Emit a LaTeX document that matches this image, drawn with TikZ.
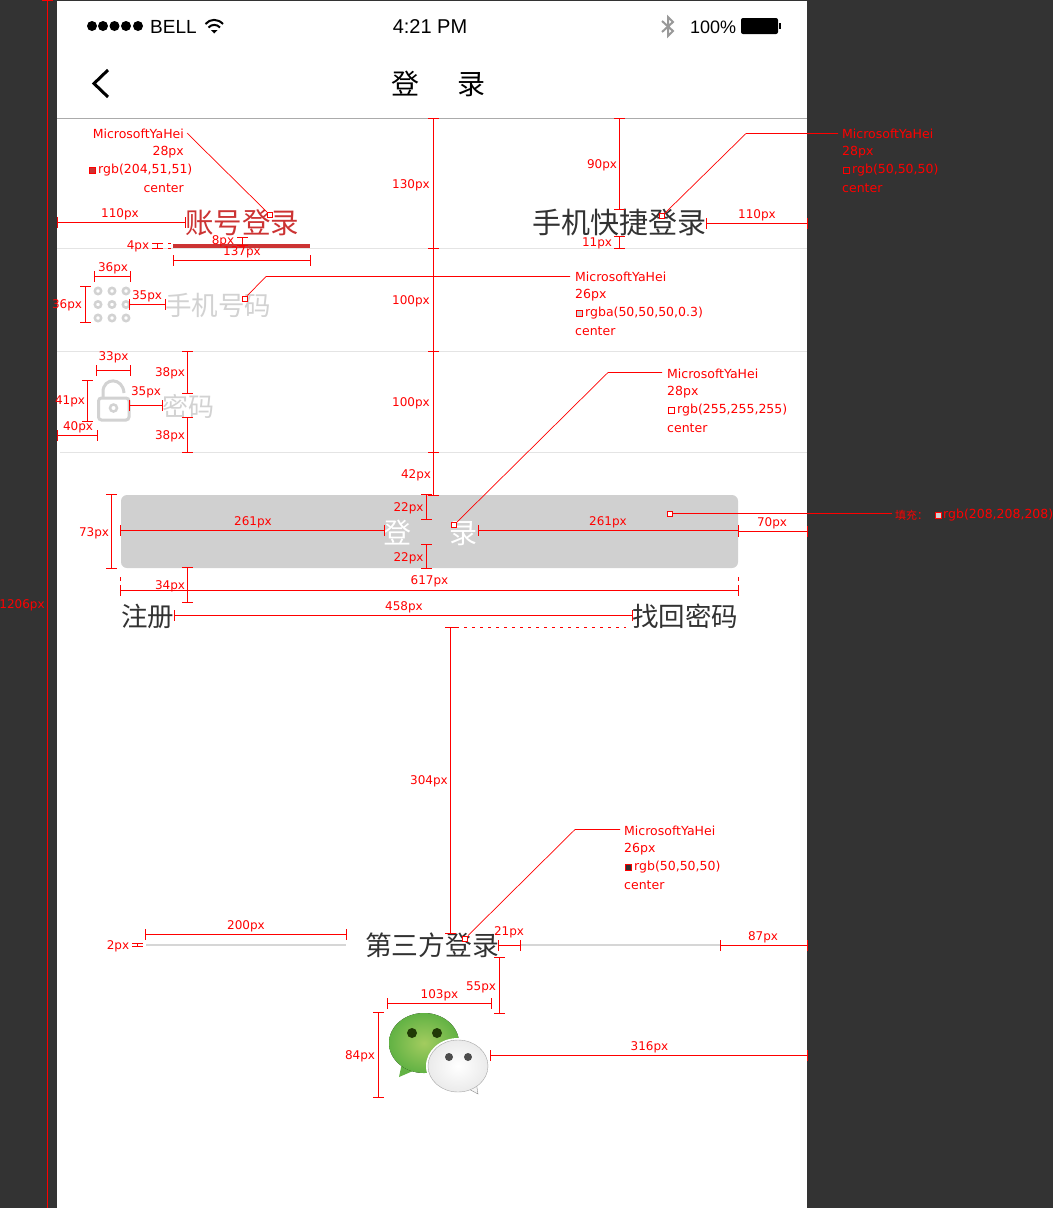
\documentclass[tikz,border=0pt]{standalone}
\usepackage{fontspec}
\newfontfamily\cjk{Noto Sans CJK SC}
\newfontfamily\dejavu{DejaVu Sans}
\newfontfamily\liber{Liberation Sans}
\definecolor{pagedark}{RGB}{51,51,51}
\definecolor{inkdark}{RGB}{50,50,50}
\definecolor{accred}{RGB}{204,51,51}
\definecolor{btngrey}{RGB}{208,208,208}
\definecolor{hintgrey}{RGB}{210,210,210}
\definecolor{sepline}{RGB}{228,228,228}
\definecolor{wxlight}{RGB}{163,204,95}
\definecolor{wxgreen}{RGB}{98,178,68}
\definecolor{wxeye}{RGB}{32,58,6}
\tikzset{
    dimline/.style={draw=red,line width=1pt},
    dimtext/.style={red,inner sep=0pt,font=\dejavu\fontsize{12}{14}\selectfont},
    spectext/.style={dimtext,anchor=west,font=\dejavu\fontsize{12.5}{14}\selectfont},
    leader/.style={red,line width=.7pt},
    dotmark/.style={draw=red,line width=1pt,fill=white,inner sep=0pt,minimum size=5pt},
    colormark/.style={dotmark,minimum size=6pt},
    cjktext/.style={inner sep=0pt,text=inkdark},
    sepstyle/.style={sepline,line width=1pt},
}
\newcommand{\cjkat}[1]{\cjk\fontsize{#1}{#1}\selectfont}
\begin{document}
\begin{tikzpicture}[x=1pt,y=-1pt]
    \useasboundingbox (0,0) rectangle (1053,1208);
    \fill[pagedark] (0,0) rectangle (1053,1208);
    \fill[white] (57,1) rectangle (807,1208);
    % status bar
    \foreach \x in {92,103,114.5,126,138}
        \fill (\x,26) circle[radius=5pt];
    \node[inner sep=0pt,anchor=west,font=\liber\fontsize{19}{20}\selectfont] (carrier) at (150,27) {BELL};
    \draw[line width=2pt] (205.5,24) .. controls (210,18.5) and (218,18.5) .. (223,24);
    \draw[line width=2pt] (208.5,27.5) .. controls (211.5,24) and (217,24) .. (220,27.5);
    \fill (211,30) -- (217.5,30) -- (214.2,33.5) -- cycle;
    \node[inner sep=0pt,font=\liber\fontsize{20}{20}\selectfont] (clock) at (430,27) {4:21 PM};
    \draw[black!40,line width=2pt] (662,21) -- (673,31) -- (668,36) -- (668,17) -- (673,22) -- (662,32);
    \node[inner sep=0pt,anchor=west,font=\liber\fontsize{18}{20}\selectfont] (battery) at (690,27) {100\%};
    \fill[rounded corners=2pt] (741,18) rectangle (778,34);
    \fill (779,23) rectangle (781,29);
    % nav bar
    \draw[line width=3pt] (108,70) -- (94,83.5) -- (108,97);
    \node[cjktext,text=black,font=\cjkat{28}] (title) at (438.5,84) {登\hspace{39pt}录};
    \draw[black!33,line width=1pt] (57,118.5) -- (807,118.5);
    \foreach \xa/\y in {57/248,57/351.5,60/452.5}
        \draw[sepstyle] (\xa,\y) -- (807,\y);
    % tabs
    \node[cjktext,text=accred,font=\cjkat{28.5}] (tabacc) at (242,223) {账号登录};
    \fill[accred] (173,243.5) rectangle (310,247.5);
    \node[cjktext,font=\cjkat{29}] (tabphone) at (619,223) {手机快捷登录};
    % phone row
    \foreach \x in {98,112,126}
        \foreach \y in {291,304.5,318}
            \draw[hintgrey,line width=2.5pt] (\x,\y) circle[radius=3.2pt];
    \node[cjktext,text=hintgrey,font=\cjkat{26.5}] (phonehint) at (218,305) {手机号码};
    % password row
    \draw[hintgrey,line width=3pt,rounded corners=3pt] (98.5,398) rectangle (129,420);
    \draw[hintgrey,line width=3pt] (103,398) -- (103,392) .. controls (103,377) and (123,377) .. (124,393);
    \draw[hintgrey,line width=2.5pt] (113.5,408) circle[radius=3.5pt];
    \node[cjktext,text=hintgrey,font=\cjkat{26}] (pwdhint) at (188,406) {密码};
    % button
    \fill[btngrey,rounded corners=6pt] (121,495) rectangle (738,568);
    \node[cjktext,text=white,font=\cjkat{28}] (btnlabel) at (430.5,533) {登\hspace{39pt}录};
    \node[cjktext,font=\cjkat{26.5}] (signup) at (147.5,616) {注册};
    \node[cjktext,font=\cjkat{26.5}] (forgot) at (685,616) {找回密码};
    % third party
    \node[cjktext,font=\cjkat{26.8}] (thirdlabel) at (432,945) {第三方登录};
    \fill[black!16] (146,944) rectangle (346,946);
    \fill[black!16] (520,944) rectangle (720,946);
    % wechat icon
    \fill[wxgreen] (402,1063) -- (399,1077) -- (413,1071) -- cycle;
    \fill[inner color=wxlight,outer color=wxgreen] (424,1043) ellipse[x radius=35pt,y radius=30pt];
    \fill[wxeye] (412,1033) circle[radius=5pt];
    \fill[wxeye] (437,1033) circle[radius=5pt];
    \fill[white] (458,1066) ellipse[x radius=32pt,y radius=28pt];
    \draw[black!45,fill=black!4] (467,1088) -- (478,1094) -- (476,1081) -- cycle;
    \shade[inner color=white,outer color=black!8,draw=black!35] (458,1066) ellipse[x radius=30pt,y radius=26pt];
    \fill[black!70] (449,1057) circle[radius=4pt];
    \fill[black!70] (468,1057) circle[radius=4pt];
    % horizontal dimensions
    \foreach \xa/\xb/\y/\txt/\lx/\ly [count=\i] in {
        57/185/222.5/110px/120/214, 173/310/260.5/137px/242/252, 94/130/276.5/36px/113/268,
        129/165/304.5/35px/147/296, 706/807/223.5/110px/757/215, 96.5/130/370.5/33px/113.5/357,
        129.5/162/405.5/35px/146/392, 57/97.5/435.5/40px/78/427, 120.5/384/530.5/261px/253/522,
        478/738/530.5/261px/608/522, 738/807/531.5/70px/772/523, 120.5/738.5/590.5/617px/429.5/581,
        174/632/615.5/458px/404/607, 145.5/346/934.5/200px/246/926, 498.5/520.5/945.5/21px/509/932,
        720/807/945.5/87px/763/937, 387.5/491.5/1003.5/103px/439.5/995, 490.5/807/1055.5/316px/649.5/1047}
    {
        \draw[dimline] (\xa,\y-5.5) -- (\xa,\y+5.5) (\xa,\y) -- (\xb,\y) (\xb,\y-5.5) -- (\xb,\y+5.5);
        \node[dimtext,yshift=-.7pt] (hdim\i) at (\lx,\ly) {\txt};
    }
    % vertical dimensions
    \foreach \x/\ya/\yb/\txt/\lx/\ly [count=\i] in {
        47.5/0.5/1208/1206px/22/605, 157.5/243.5/248/4px/138/246, 242.5/237/245/8px/223/241,
        85.5/286/322/36px/67/305, 433.5/118.5/248/130px/411/185, 433.5/248/351.5/100px/411/301,
        433.5/351.5/452.5/100px/411/403, 433.5/452.5/495/42px/416/475, 619.5/118.5/209.5/90px/602/165,
        619.5/236/248/11px/597/243, 187.5/351.5/393/38px/170/373, 187.5/417.5/452.5/38px/170/436,
        87.5/380/421/41px/70/401, 111.5/494.5/568.5/73px/94/533, 426.5/494.5/519.5/22px/408.5/508,
        426.5/544.5/568.5/22px/408.5/558, 187.5/567.5/602.5/34px/170/586, 450.5/627.5/933/304px/429/781,
        137.5/943.5/946.5/2px/118/946, 499.5/957.5/1013.5/55px/481/986.5, 378.5/1012.5/1097.5/84px/360/1056}
    {
        \draw[dimline] (\x-5.5,\ya) -- (\x+5.5,\ya) (\x,\ya) -- (\x,\yb) (\x-5.5,\yb) -- (\x+5.5,\yb);
        \node[dimtext,yshift=-.7pt] (vdim\i) at (\lx,\ly) {\txt};
    }
    \draw[red,line width=1pt,dash pattern=on 3pt off 5pt] (456,627.5) -- (626,627.5);
    \foreach \x/\ya/\yb in {168/243.5/243.5,168/248/248}
        \draw[red,line width=1pt] (\x,\ya) -- (\x+3,\yb);
    \foreach \x in {120.5,738.5}
        \draw[red,line width=1pt] (\x,577) -- (\x,581);
    % leaders
    \node[dotmark] (accdot) at (270,215) {};
    \coordinate (accend) at (187,133);
    \draw[leader] (accdot) -- (accend);
    \node[dotmark] (phonedot) at (244.5,298.5) {};
    \coordinate (phoneknee) at (266,276.5);
    \coordinate (phoneend) at (570,276.5);
    \draw[leader] (phonedot) -- (phoneknee) -- (phoneend);
    \node[dotmark] (tabdot) at (662,216) {};
    \coordinate (tabknee) at (746,133.5);
    \coordinate (tabend) at (838,133.5);
    \draw[leader] (tabdot) -- (tabknee) -- (tabend);
    \node[dotmark] (btndot) at (454,525) {};
    \coordinate (btnknee) at (608,372.5);
    \coordinate (btnend) at (662,372.5);
    \draw[leader] (btndot) -- (btnknee) -- (btnend);
    \node[dotmark] (filldot) at (669.5,513.5) {};
    \coordinate (fillend) at (892,513.5);
    \draw[leader] (filldot) -- (fillend);
    \node[dotmark] (thirddot) at (465,938.5) {};
    \coordinate (thirdknee) at (575,829.5);
    \coordinate (thirdend) at (620,829.5);
    \draw[leader] (thirddot) -- (thirdknee) -- (thirdend);
    % spec texts
    \node[spectext,anchor=east] (acc1) at (184,134) {MicrosoftYaHei};
    \node[spectext,anchor=east] (acc2) at (184,152) {28px};
    \node[colormark,fill=accred] (acc3m) at (92.5,170) {};
    \node[spectext] (acc3) at (98,170) {rgb(204,51,51)};
    \node[spectext,anchor=east] (acc4) at (184,188) {center};
    \foreach \x/\y/\size/\rgbtxt/\markcol [count=\i] in {
        575/277/26px/{rgba(50,50,50,0.3)}/hintgrey,
        842/134/28px/{rgb(50,50,50)}/pagedark,
        667/374/28px/{rgb(255,255,255)}/white,
        624/831/26px/{rgb(50,50,50)}/inkdark}
    {
        \node[spectext] (specA\i) at (\x,\y) {MicrosoftYaHei};
        \node[spectext] (specB\i) at (\x,\y+18) {\size};
        \node[colormark,fill=\markcol] (specM\i) at (\x+4,\y+36) {};
        \node[spectext] (specC\i) at (\x+10,\y+36) {\rgbtxt};
        \node[spectext] (specD\i) at (\x,\y+54) {center};
    }
    \node[spectext,font=\cjk\fontsize{11}{12}\selectfont] (fill1) at (895,515) {填充：};
    \node[colormark,fill=btngrey] (fillm) at (938,515) {};
    \node[spectext] (fill2) at (943,515) {rgb(208,208,208)};
\end{tikzpicture}
\end{document}
